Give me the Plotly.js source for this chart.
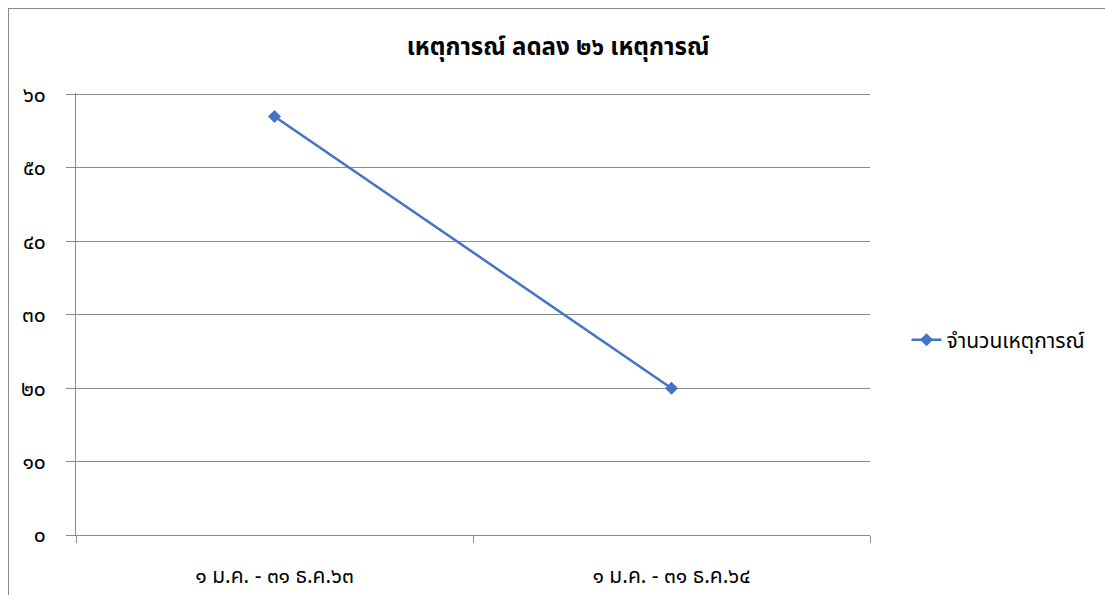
<!DOCTYPE html>
<html>
<head>
<meta charset="utf-8">
<script src="https://cdn.plot.ly/plotly-3.0.1.min.js"></script>
<style>
html,body{margin:0;padding:0;background:#fff;}
#wrap{position:relative;width:1105px;height:595px;overflow:hidden;}
#chart{width:1105px;height:595px;}
#frame{position:absolute;left:8px;top:8px;width:1200px;height:700px;border:1px solid #8c8c8c;pointer-events:none;}
</style>
</head>
<body>
<div id="wrap"><div id="chart"></div><div id="frame"></div></div>
<script>
const categories = ["๑ ม.ค. - ๓๑ ธ.ค.๖๓", "๑ ม.ค. - ๓๑ ธ.ค.๖๔"];
const values = [57, 20];
const seriesName = "จำนวนเหตุการณ์";
const chartTitle = "เหตุการณ์ ลดลง ๒๖ เหตุการณ์";
const yTickVals = [0, 10, 20, 30, 40, 50, 60];
const yTickText = ["๐", "๑๐", "๒๐", "๓๐", "๔๐", "๕๐", "๖๐"];

const fontFam = "'Noto Sans', 'Noto Sans Thai', 'DejaVu Sans', sans-serif";

Plotly.newPlot('chart', [{
  type: 'scatter',
  mode: 'lines+markers',
  x: categories,
  y: values,
  name: seriesName,
  line: {color: '#4472C4', width: 2.5},
  marker: {symbol: 'diamond', size: 10, color: '#4472C4'}
}], {
  width: 1105, height: 595,
  margin: {l: 76, r: 235, t: 93, b: 60},
  paper_bgcolor: '#fff', plot_bgcolor: '#fff',
  title: {text: '<b>' + chartTitle + '</b>', x: 0.505, xref: 'container', xanchor: 'center',
          y: 0.922, yref: 'container', yanchor: 'middle',
          font: {family: fontFam, size: 24, color: '#000'}},
  xaxis: {type: 'category', range: [-0.5, 1.5], tickson: 'boundaries', ticks: 'outside',
          ticklen: 7, tickcolor: '#8c8c8c', showline: true, linecolor: '#8c8c8c', linewidth: 1,
          showgrid: false, zeroline: false, ticklabelstandoff: 22,
          tickfont: {family: fontFam, size: 21, color: '#000'}, automargin: false},
  yaxis: {range: [0, 60.2], tickvals: yTickVals, ticktext: yTickText, ticks: 'outside', ticklen: 9,
          tickcolor: '#8c8c8c', showline: true, linecolor: '#8c8c8c', linewidth: 1,
          gridcolor: '#8c8c8c', gridwidth: 1, zeroline: false, ticklabelstandoff: 16,
          tickfont: {family: fontFam, size: 21, color: '#000'}, automargin: false},
  showlegend: true,
  legend: {x: 1.046, xanchor: 'left', y: 0.441, yanchor: 'middle', bgcolor: 'rgba(0,0,0,0)',
           font: {family: fontFam, size: 21, color: '#000'}}
}, {displayModeBar: false, staticPlot: true});
</script>
</body>
</html>
